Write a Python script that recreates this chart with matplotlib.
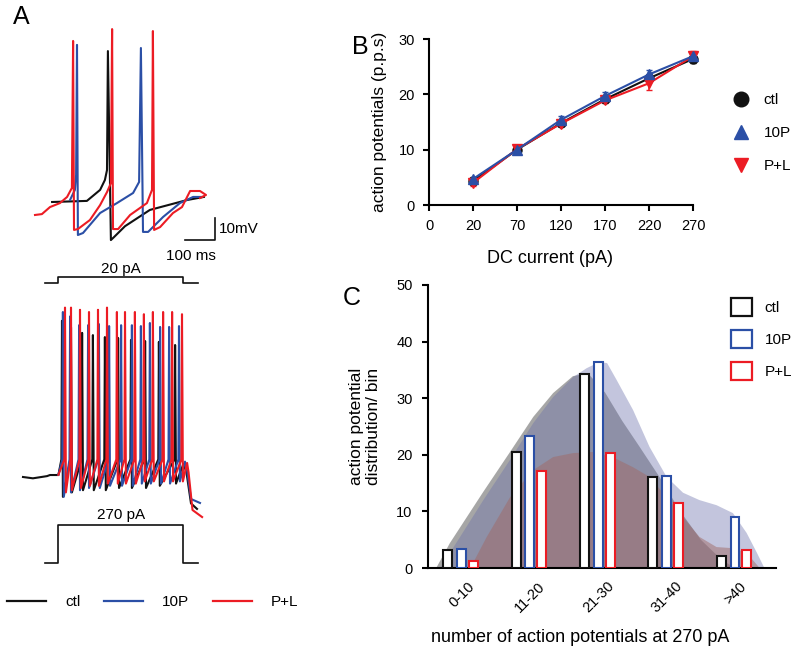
import matplotlib
matplotlib.use("Agg")
import matplotlib.pyplot as plt
from matplotlib.lines import Line2D
from matplotlib.patches import Patch

plt.rcParams['font.family'] = ['Liberation Sans', 'DejaVu Sans']

W, H = 800, 652
BLACK = '#111111'
BLUE = '#2b4fa6'
RED = '#ec1c24'
groups = ['ctl', '10P', 'P+L']

# ---------------- panel A, 20 pA (time in ms, voltage in mV) ----------------
top_ctl_t = [57, 173, 217, 233, 240, 243, 253, 263, 300, 383, 507, 563]
top_ctl_v = [-60, -59.5, -54.5, -50, -45.5, 8.6, -77.3, -76, -71, -63.6, -59.1, -57.7]
top_10p_t = [117, 133, 137, 140, 143, 160, 217, 273, 327, 347, 353, 360, 377, 427, 483, 527, 557]
top_10p_v = [-59, -54.5, -47.7, 11.4, -75, -74.1, -65, -60.5, -55.9, -50.9, 10, -73.6, -73.6,
             -66.8, -60.5, -57.7, -57.7]
top_pl_t = [0, 23, 50, 83, 107, 123, 127, 130, 143, 183, 217, 240, 253, 257, 260, 277, 317,
            373, 390, 393, 397, 417, 460, 490, 517, 550, 570, 550]
top_pl_v = [-65.9, -65.5, -62.3, -60.5, -57.7, -53.6, 13.2, -72.7, -72.3, -68.2, -61.4, -55.5,
            -51.4, 18.6, -72.3, -72.3, -65.9, -60.5, -54.5, 17.7, -72.7, -71.4, -65, -62.3,
            -55, -55, -56.8, -58.2]

# ---------------- panel A, 270 pA ----------------
bot_ctl_pre_t = [-40, -7, 40, 50, 78]
bot_ctl_pre_v = [-60, -60.6, -59.6, -59.1, -59.1]
bot_ctl_spk = [90, 120, 157, 193, 233, 277, 320, 367, 413, 467]
bot_ctl_peak = [11, 8, 5.5, 4.5, 3.6, 3.2, 2.3, 1.8, 1.4, 0]
bot_ctl_trough = [-69, -67, -66, -66, -66, -65, -65, -65, -64, -63]
bot_ctl_post_t = [495, 505, 520, 540]
bot_ctl_post_v = [-54, -58, -72, -74.5]

bot_10p_spk = [93, 117, 147, 177, 213, 247, 287, 323, 353, 383, 417, 447, 480]
bot_10p_peak = [15, 13, 9, 9, 9.5, 8.6, 9, 9, 8.6, 10, 8.2, 8.2, 8.6]
bot_10p_trough = [-69, -67, -66, -65, -65, -64, -64, -64, -63, -63, -63, -63, -62]
bot_10p_post_t = [500, 507, 520, 550]
bot_10p_post_v = [-53, -57, -70, -71.8]

bot_pl_spk = [100, 120, 150, 180, 210, 240, 273, 300, 333, 363, 393, 427, 457, 490]
bot_pl_peak = [17, 17, 16, 15, 16, 17, 15, 15, 15, 14, 15, 15, 15, 14]
bot_pl_trough = [-67, -66, -65, -64, -64, -63, -63, -63, -63, -62, -62, -62, -62, -62]
bot_pl_post_t = [507, 512, 525, 557]
bot_pl_post_v = [-53.6, -58, -75, -78.2]

stim_t = [33, 78, 78, 494, 494, 543]
stim_20 = [0, 0, 20, 20, 0, 0]
stim_270 = [0, 0, 270, 270, 0, 0]

# ---------------- panel B ----------------
dc_labels = ['0', '20', '70', '120', '170', '220', '270']
dc_pos = [1, 2, 3, 4, 5, 6]
pps_ctl = [4.3, 10.0, 14.8, 19.1, 22.9, 26.4]
pps_10p = [4.7, 10.0, 15.4, 19.7, 23.6, 26.9]
pps_pl = [4.0, 10.1, 14.7, 18.9, 22.0, 26.9]
err_ctl = [0.4, 0.4, 0.5, 0.5, 0.6, 0.7]
err_10p = [0.4, 0.4, 0.7, 0.7, 0.8, 0.8]
err_pl = [0.5, 0.5, 0.5, 0.5, 1.2, 0.9]

# ---------------- panel C ----------------
bins = ['0-10', '11-20', '21-30', '31-40', '>40']
dist_ctl = [3.2, 20.5, 34.3, 16.0, 2.2]
dist_10p = [3.4, 23.3, 36.4, 16.2, 9.0]
dist_pl = [1.2, 17.1, 20.3, 11.5, 3.2]

kde_ctl_x = [-0.37, -0.17, 0.31, 0.71, 1.05, 1.34, 1.63, 1.85, 2.1, 2.35, 2.6, 2.9, 3.2, 3.5, 3.8, 4.0]
kde_ctl_y = [0, 4.4, 13.3, 20.5, 26.7, 30.9, 33.9, 34.4, 31, 26, 21.5, 16, 10, 5, 1.5, 0]
kde_10p_x = [-0.31, -0.02, 0.32, 0.71, 1.05, 1.34, 1.63, 1.83, 2.02, 2.13, 2.27, 2.51, 2.75,
             3.0, 3.24, 3.48, 3.73, 3.97, 4.17, 4.32, 4.43]
kde_10p_y = [0, 5.5, 12, 19.1, 25.6, 30.2, 33.7, 35.3, 36.4, 36.2, 33.2, 27.9, 21.4, 16.1,
             13.3, 12, 11.1, 9.7, 6.2, 2.7, 0]
kde_pl_x = [0.13, 0.37, 0.71, 1.05, 1.34, 1.63, 1.92, 2.21, 2.51, 2.75, 3.0, 3.24, 3.48, 3.73,
            3.97, 4.17, 4.36]
kde_pl_y = [0, 5.5, 12.5, 17.3, 19.6, 20.3, 20.5, 19.6, 17.8, 16.1, 12.5, 9, 5.5, 3.7, 3.5, 2.7, 0]


def box(x0, y0, x1, y1):
    return [x0 / W, 1 - y1 / H, (x1 - x0) / W, (y1 - y0) / H]


def train(pre_t, pre_v, spk, peak, trough, post_t, post_v, thr=-52):
    t, v = list(pre_t), list(pre_v)
    for s, p, tr in zip(spk, peak, trough):
        t += [s - 2, s, s + 3]
        v += [thr, p, tr]
    return t + post_t, v + post_v


fig = plt.figure(figsize=(W / 100, H / 100), dpi=100)

# --- A top traces
ax = fig.add_axes(box(20, 15, 245, 268))
ax.plot(top_ctl_t, top_ctl_v, color=BLACK, lw=1.5)
ax.plot(top_10p_t, top_10p_v, color=BLUE, lw=1.5)
ax.plot(top_pl_t, top_pl_v, color=RED, lw=1.5)
ax.plot([500, 600, 600], [-77.3, -77.3, -67.3], color=BLACK, lw=1.2)
ax.text(612, -72.3, '10mV', fontsize=11, va='center', ha='left')
ax.text(520, -81.5, '100 ms', fontsize=11, va='top', ha='center')
ax.set_xlim(-50, 700)
ax.set_ylim(-90, 25)
ax.axis('off')

ax = fig.add_axes(box(20, 274, 245, 284.5))
ax.plot(stim_t, stim_20, color=BLACK, lw=1.2)
ax.annotate('20 pA', (286, 20), xytext=(0, 3), textcoords='offset points',
            ha='center', va='baseline', fontsize=11)
ax.set_xlim(-50, 700)
ax.set_ylim(-5, 30)
ax.axis('off')

# --- A bottom traces
ax = fig.add_axes(box(20, 290, 245, 543))
t, v = train(bot_ctl_pre_t, bot_ctl_pre_v, bot_ctl_spk, bot_ctl_peak, bot_ctl_trough,
             bot_ctl_post_t, bot_ctl_post_v)
ax.plot(t, v, color=BLACK, lw=1.5)
t, v = train([78], [-59], bot_10p_spk, bot_10p_peak, bot_10p_trough,
             bot_10p_post_t, bot_10p_post_v)
ax.plot(t, v, color=BLUE, lw=1.5)
t, v = train([78], [-59], bot_pl_spk, bot_pl_peak, bot_pl_trough,
             bot_pl_post_t, bot_pl_post_v)
ax.plot(t, v, color=RED, lw=1.5)
ax.set_xlim(-50, 700)
ax.set_ylim(-90, 25)
ax.axis('off')

ax = fig.add_axes(box(20, 522, 245, 566))
ax.plot(stim_t, stim_270, color=BLACK, lw=1.2)
ax.annotate('270 pA', (286, 270), xytext=(0, 4), textcoords='offset points',
            ha='center', va='baseline', fontsize=11)
ax.set_xlim(-50, 700)
ax.set_ylim(-20, 290)
ax.axis('off')

handles = [Line2D([], [], color=c, lw=1.6) for c in (BLACK, BLUE, RED)]
fig.legend(handles, groups, loc='center left', bbox_to_anchor=(7 / W, 1 - 602 / H),
           ncol=3, frameon=False, fontsize=11, handlelength=2.55, handletextpad=1.25,
           columnspacing=1.55, borderaxespad=0, borderpad=0)

fig.text(21 / W, 1 - 17 / H, 'A', fontsize=18, ha='center', va='center')
fig.text(360 / W, 1 - 47 / H, 'B', fontsize=18, ha='center', va='center')
fig.text(352 / W, 1 - 298 / H, 'C', fontsize=18, ha='center', va='center')

# --- B
ax = fig.add_axes(box(429, 39, 693, 205))
for y, e, c, m in ((pps_ctl, err_ctl, BLACK, 'o'), (pps_pl, err_pl, RED, 'v'),
                   (pps_10p, err_10p, BLUE, '^')):
    ax.errorbar(dc_pos, y, yerr=e, color=c, marker=m, ms=6.5, lw=1.5, capsize=2.5,
                elinewidth=1.2, clip_on=False)
ax.set_xlim(0, 6)
ax.set_ylim(0, 30)
ax.set_xticks(range(7))
ax.set_xticklabels(dc_labels)
ax.set_yticks([0, 10, 20, 30])
ax.spines[['top', 'right']].set_visible(False)
ax.spines[['left', 'bottom']].set_linewidth(1.5)
ax.tick_params(width=1.5, length=4, labelsize=10.5, pad=6)
ax.set_xlabel('DC current (pA)', fontsize=13)
ax.xaxis.set_label_coords(0.46, -0.27)
ax.set_ylabel('action potentials (p.p.s)', fontsize=12.5)
ax.yaxis.set_label_coords(-0.16, 0.5)
leg_h = [Line2D([], [], ls='none', marker=m, color=c, ms=10.5)
         for m, c in (('o', BLACK), ('^', BLUE), ('v', RED))]
fig.legend(leg_h, groups, loc='upper left', bbox_to_anchor=(733 / W, 1 - 93 / H),
           frameon=False, fontsize=11, handlelength=1.0, handletextpad=1.0,
           labelspacing=1.25, borderaxespad=0, borderpad=0)

# --- C
ax = fig.add_axes(box(428, 285, 776, 568))
ax.fill(kde_ctl_x, kde_ctl_y, color='#777777', alpha=0.65, lw=0)
ax.fill(kde_10p_x, kde_10p_y, color='#6a70aa', alpha=0.4, lw=0)
ax.fill(kde_pl_x, kde_pl_y, color='#a06a66', alpha=0.5, lw=0)
pos = range(len(bins))
bw = 0.13
ax.bar([p - 0.2 for p in pos], dist_ctl, bw, facecolor='white', edgecolor=BLACK, lw=1.5, zorder=3)
ax.bar(list(pos), dist_10p, bw, facecolor='white', edgecolor=BLUE, lw=1.5, zorder=3)
ax.bar([p + 0.175 for p in pos], dist_pl, bw, facecolor='white', edgecolor=RED, lw=1.5, zorder=3)
ax.set_xlim(-0.49, 4.6)
ax.set_ylim(0, 50)
ax.set_yticks([0, 10, 20, 30, 40, 50])
ax.set_xticks(list(pos))
ax.set_xticklabels(bins, rotation=45, ha='center')
ax.spines[['top', 'right']].set_visible(False)
ax.spines[['left', 'bottom']].set_linewidth(1.5)
ax.tick_params(axis='y', width=1.5, length=4, labelsize=10.5, pad=7)
ax.tick_params(axis='x', length=0, labelsize=10.5, pad=8)
ax.set_xlabel('number of action potentials at 270 pA', fontsize=13)
ax.xaxis.set_label_coords(0.437, -0.215)
ax.set_ylabel('action potential\ndistribution/ bin', fontsize=12.5)
ax.yaxis.set_label_coords(-0.135, 0.5)
leg_p = [Patch(facecolor='white', edgecolor=c, lw=1.6) for c in (BLACK, BLUE, RED)]
fig.legend(leg_p, groups, loc='upper left', bbox_to_anchor=(731 / W, 1 - 298 / H),
           frameon=False, fontsize=11, handlelength=1.4, handleheight=1.4,
           handletextpad=0.8, labelspacing=0.95, borderaxespad=0, borderpad=0)

fig.savefig('out.png', dpi=100)
